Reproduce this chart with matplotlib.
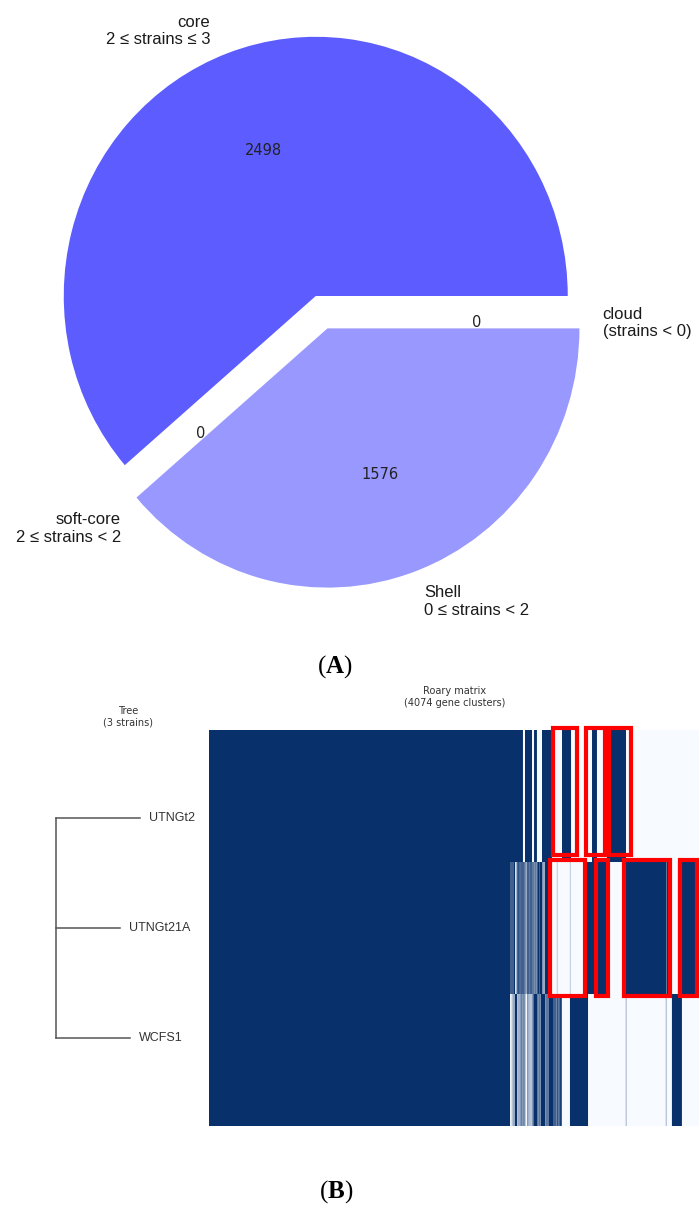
import numpy as np
import matplotlib
matplotlib.use('Agg')
import matplotlib.pyplot as plt
from matplotlib.patches import Rectangle
from matplotlib.colors import LinearSegmentedColormap

W, H = 699, 1211

# ---- (A) pangenome pie ----
pie_labels = ['core\n2 ≤ strains ≤ 3', 'soft-core\n2 ≤ strains < 2',
              'Shell\n0 ≤ strains < 2', 'cloud\n(strains < 0)']
pie_counts = [2498, 0, 1576, 0]
pie_explode = [0.1, 0.05, 0.02, 0]
pie_colors = ['#5c5cff', '#7a7aff', '#9898ff', '#ffffff']

# ---- (B) roary matrix ----
strains = ['UTNGt2', 'UTNGt21A', 'WCFS1']
branch_len = [0.84, 0.64, 0.74]
n_genes = 4074

# presence / absence along the sorted gene clusters: (run length, present)
runs_UTNGt2 = [(2605, 1), (17, 0), (58, 1), (17, 0), (24, 1), (42, 0), (83, 1),
               (83, 0), (75, 1), (174, 0), (41, 1), (83, 0), (158, 1), (614, 0)]
runs_UTNGt21A = [(2498, 1),
                 (2, 0), (7, 1), (2, 0), (6, 1), (2, 0), (6, 1),
                 (2, 0), (15, 1),
                 (10, 0), (3, 1), (4, 0),
                 (6, 1), (2, 0), (7, 1), (2, 0), (6, 1), (3, 0), (7, 1), (2, 0),
                 (6, 1), (2, 0), (7, 1), (2, 0), (6, 1), (3, 0), (5, 1),
                 (4, 0), (4, 1), (5, 0), (4, 1),
                 (2, 0), (7, 1), (2, 0), (6, 1), (3, 0), (7, 1), (2, 0), (6, 1), (2, 0), (4, 1),
                 (3, 0), (5, 1), (3, 0), (5, 1), (4, 0), (5, 1), (3, 0), (5, 1), (4, 0), (5, 1),
                 (2, 0), (18, 1), (2, 0), (19, 1),
                 (4, 0), (4, 1), (5, 0), (4, 1), (5, 0), (27, 1),
                 (74, 0), (2, 1), (106, 0), (2, 1), (139, 0), (183, 1), (108, 0),
                 (365, 1), (3, 0), (46, 1), (50, 0), (183, 1)]
runs_WCFS1 = [(2498, 1),
              (15, 0), (3, 1), (6, 0), (3, 1), (5, 0), (2, 1), (5, 0), (21, 1),
              (6, 0), (3, 1), (7, 0), (3, 1), (6, 0),
              (4, 1), (4, 0), (5, 1), (4, 0), (4, 1), (5, 0), (5, 1), (4, 0), (6, 1),
              (17, 0),
              (4, 1), (6, 0), (3, 1), (7, 0), (4, 1), (6, 0), (3, 1), (7, 0), (4, 1), (6, 0),
              (33, 1),
              (3, 0), (5, 1), (4, 0), (5, 1), (3, 0), (5, 1), (4, 0), (37, 1),
              (4, 0), (5, 1), (3, 0), (6, 1), (3, 0), (5, 1), (3, 0), (37, 1),
              (2, 0), (7, 1), (2, 0), (8, 1), (2, 0), (7, 1), (5, 0),
              (8, 1), (3, 0), (10, 1), (3, 0), (9, 1), (2, 0), (5, 1),
              (66, 0), (150, 1), (314, 0), (3, 1), (329, 0), (3, 1), (47, 0),
              (83, 1), (150, 0)]
strain_runs = [runs_UTNGt2, runs_UTNGt21A, runs_WCFS1]

# highlighted blocks: (gene from, gene to, row from, row to)
boxes = [(2854, 3053, -0.015, 0.947), (3128, 3286, -0.015, 0.947),
         (3319, 3501, -0.015, 0.947),
         (2829, 3120, 0.985, 2.015), (3211, 3310, 0.985, 2.015),
         (3443, 3825, 0.985, 2.015), (3908, 4049, 0.985, 2.015)]

fig = plt.figure(figsize=(W / 100, H / 100), dpi=100)
plt.rcParams['mathtext.fontset'] = 'custom'
plt.rcParams['mathtext.bf'] = 'Liberation Serif:bold'
plt.rcParams['mathtext.rm'] = 'Liberation Serif'


def px_axes(x0, y0, x1, y1):
    return fig.add_axes([x0 / W, 1 - y1 / H, (x1 - x0) / W, (y1 - y0) / H])


# pie, placed in pixels (centre and scale per data unit)
cx, cy, sx, sy = 325.5, 323.0, 280.0, 288.0
xl, yl = (-1.15, 1.33), (-1.15, 1.12)
ax = px_axes(cx + xl[0] * sx, cy - yl[1] * sy, cx + xl[1] * sx, cy - yl[0] * sy)
total = sum(pie_counts)
wedges, texts, autotexts = ax.pie(
    pie_counts, labels=pie_labels, explode=pie_explode, radius=0.9,
    colors=pie_colors, autopct=lambda p: '{:d}'.format(int(round(p * total / 100.0))),
    textprops=dict(fontsize=12, family=['Liberation Sans', 'DejaVu Sans'], color='#1a1a1a'))
for t in autotexts:
    t.set_fontfamily('DejaVu Sans')
    t.set_fontsize(10.5)
    t.set_color('#222222')
label_nudge = [(-0.032, -0.009), (0.057, -0.035), (0.0, -0.02), (0.0, 0.0)]
for t, (dx, dy) in zip(texts, label_nudge):
    x, y = t.get_position()
    t.set_position((x + dx, y + dy))
ax.set_aspect('auto')
ax.set_xlim(*xl)
ax.set_ylim(*yl)
ax.axis('off')

fig.text(335 / W, 1 - 667 / H, r'($\mathbf{A}$)', ha='center', va='center',
         fontsize=18, family='Liberation Serif')

# matrix: presence/absence rows, box-averaged to screen columns so the
# dense stripes blend like the original raster
dark, light = '#08306b', '#f7fbff'
pa_cmap = LinearSegmentedColormap.from_list('pa', [light, dark])
mx0, mx1 = 209, 700
n_cols = mx1 - mx0
edges = np.linspace(0, n_genes, n_cols + 1)
rows = []
for runs in strain_runs:
    lens = np.array([r[0] for r in runs])
    vals = np.array([r[1] for r in runs])
    present = np.repeat(vals, lens).astype(float)
    csum = np.concatenate([[0.0], np.cumsum(present)])
    grid = np.arange(len(present) + 1)
    covered = np.interp(edges, grid, csum)
    rows.append(np.diff(covered) / np.diff(edges))
axm = px_axes(mx0, 730, mx1, 1126)
axm.imshow(np.array(rows), cmap=pa_cmap, vmin=0, vmax=1, aspect='auto',
           interpolation='nearest', extent=(0, n_genes, 3, 0))
for g0, g1, r0, r1 in boxes:
    axm.add_patch(Rectangle((g0, r0), g1 - g0, r1 - r0, fill=False,
                            edgecolor='#ff0000', linewidth=3, clip_on=False))
axm.set_xlim(0, n_genes)
axm.set_ylim(3, 0)
axm.set_xticks([])
axm.set_yticks([])
for sp in axm.spines.values():
    sp.set_visible(False)

# tree
axt = px_axes(0, 730, 209, 1126)
axt.set_xlim(-0.56, 1.53)
axt.set_ylim(3.8, 0.2)
axt.plot([0, 0], [1, len(strains)], color='#555555', lw=1.1)
for i, (name, bl) in enumerate(zip(strains, branch_len)):
    axt.plot([0, bl], [i + 1, i + 1], color='#555555', lw=1.1)
    axt.text(bl + 0.09, i + 1, name, va='center', ha='left', fontsize=9,
             family='Liberation Sans', color='#333333')
axt.axis('off')

fig.text(128 / W, 1 - 717 / H, 'Tree\n(3 strains)', ha='center', va='center',
         fontsize=7, color='#333333')
fig.text(455 / W, 1 - 697 / H, 'Roary matrix\n(%d gene clusters)' % n_genes,
         ha='center', va='center', fontsize=7, color='#333333')

fig.text(336 / W, 1 - 1192 / H, r'($\mathbf{B}$)', ha='center', va='center',
         fontsize=18, family='Liberation Serif')

fig.savefig('out.png', dpi=100)
